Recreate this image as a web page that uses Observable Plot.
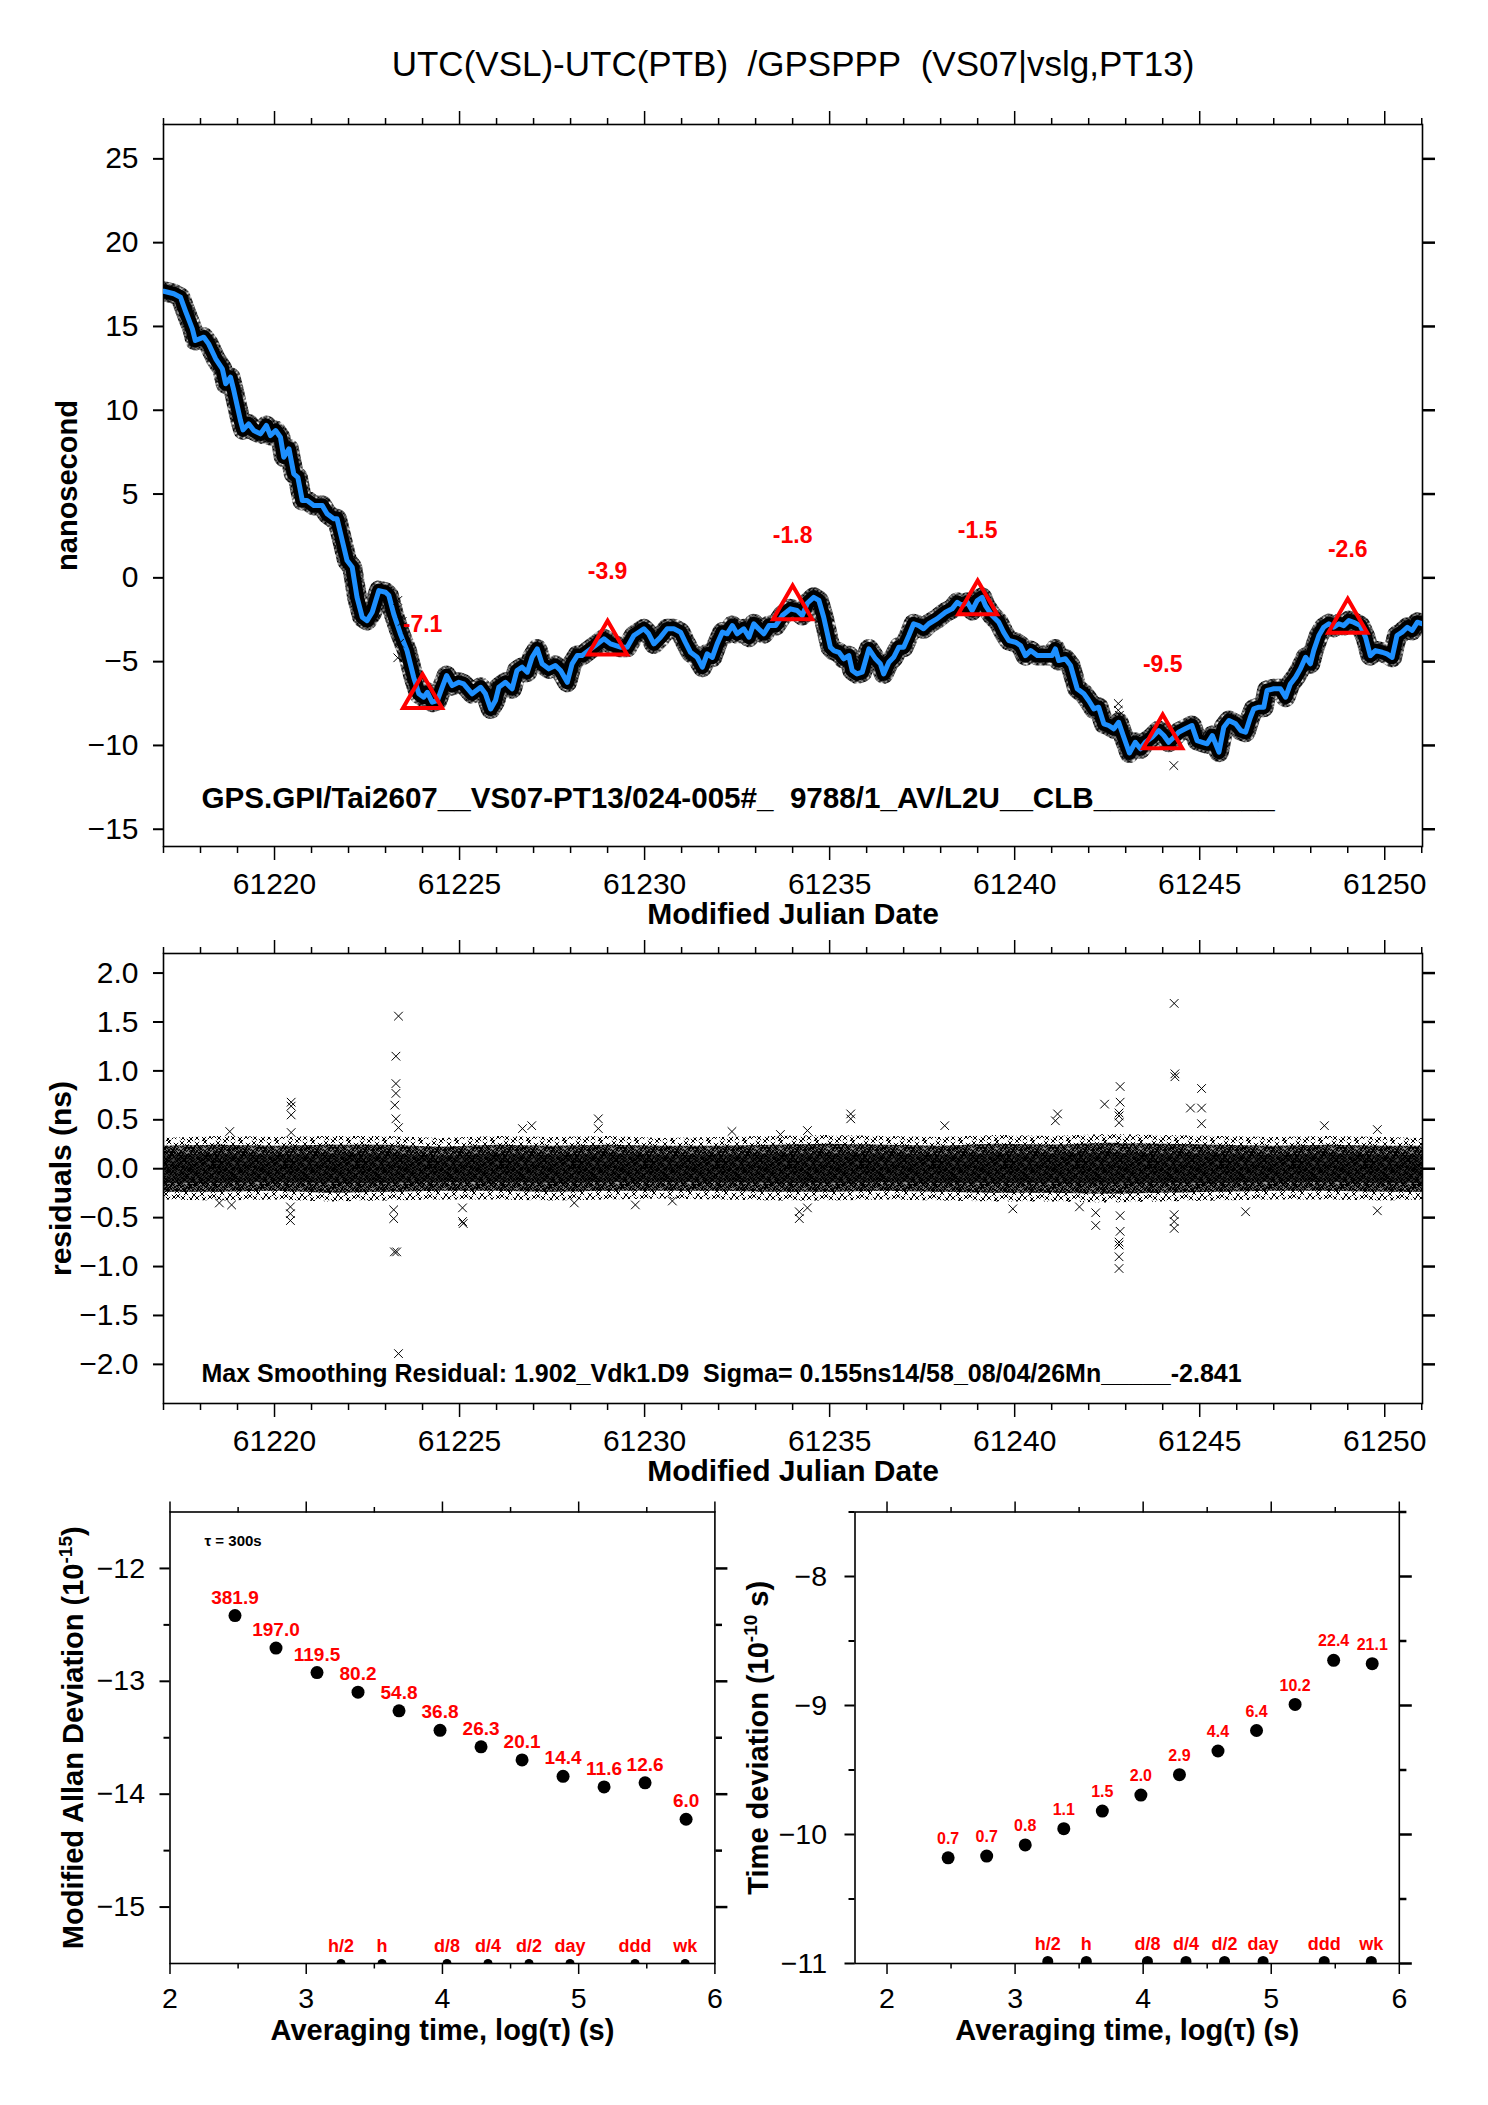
<!DOCTYPE html>
<html><head><meta charset="utf-8">
<script src="https://cdn.jsdelivr.net/npm/d3@7"></script>
<script src="https://cdn.jsdelivr.net/npm/@observablehq/plot@0.6"></script>
<style>
html,body{margin:0;padding:0;background:#fff;overflow:hidden}
#page{position:relative;width:1488px;height:2105px;background:#fff}
#page svg.p{position:absolute;left:0;top:0}
</style></head><body>
<div id="page"></div>
<script>
// ---------------- DATA ----------------
const title = "UTC(VSL)-UTC(PTB)\u00a0\u00a0/GPSPPP\u00a0\u00a0(VS07|vslg,PT13)";
const infoText = "GPS.GPI/Tai2607__VS07-PT13/024-005#_\u00a0\u00a09788/1_AV/L2U__CLB___________";
const resText = "Max Smoothing Residual: 1.902_Vdk1.D9\u00a0\u00a0Sigma= 0.155ns14/58_08/04/26Mn_____-2.841";

const mjdMajor = [61220,61225,61230,61235,61240,61245,61250];
const mjdMinor = [61217,61218,61219,61221,61222,61223,61224,61226,61227,61228,61229,61231,61232,61233,61234,61236,61237,61238,61239,61241,61242,61243,61244,61246,61247,61248,61249,61251];
const nsTicks = [-15,-10,-5,0,5,10,15,20,25];
const resTicks = [-2,-1.5,-1,-0.5,0,0.5,1,1.5,2];

// smoothed UTC(VSL)-UTC(PTB) curve (ns)
const topMjd = [61217.01,61217.28,61217.46,61217.59,61217.78,61217.86,61218.09,61218.22,61218.41,61218.59,61218.68,61218.81,61218.90,61219.08,61219.15,61219.30,61219.44,61219.62,61219.78,61219.89,61220.03,61220.16,61220.25,61220.39,61220.52,61220.63,61220.75,61220.88,61221.06,61221.29,61221.42,61221.60,61221.69,61221.83,61221.96,61222.10,61222.23,61222.37,61222.50,61222.64,61222.82,61223.00,61223.09,61223.22,61223.40,61223.58,61223.76,61223.90,61224.03,61224.13,61224.26,61224.40,61224.53,61224.65,61224.80,61224.98,61225.11,61225.34,61225.57,61225.70,61225.84,61225.97,61226.06,61226.24,61226.42,61226.55,61226.69,61226.83,61226.96,61227.10,61227.23,61227.41,61227.59,61227.73,61227.91,61228.04,61228.18,61228.31,61228.49,61228.67,61228.90,61229.08,61229.35,61229.53,61229.71,61229.98,61230.11,61230.25,61230.43,61230.61,61230.79,61230.97,61231.10,61231.24,61231.42,61231.56,61231.69,61231.83,61231.96,61232.10,61232.23,61232.37,61232.50,61232.68,61232.82,61232.95,61233.08,61233.22,61233.36,61233.54,61233.72,61233.94,61234.12,61234.26,61234.40,61234.57,61234.71,61234.84,61235.02,61235.11,61235.25,61235.38,61235.52,61235.61,61235.74,61235.88,61236.06,61236.24,61236.37,61236.46,61236.60,61236.73,61236.87,61237.00,61237.14,61237.27,61237.41,61237.54,61237.68,61237.90,61238.13,61238.31,61238.45,61238.58,61238.72,61238.85,61238.99,61239.12,61239.21,61239.39,61239.57,61239.70,61239.84,61240.02,61240.16,61240.29,61240.43,61240.61,61240.83,61241.01,61241.10,61241.19,61241.37,61241.51,61241.60,61241.69,61241.87,61242.00,61242.14,61242.27,61242.41,61242.54,61242.68,61242.81,61242.95,61243.10,61243.26,61243.40,61243.53,61243.71,61243.89,61244.03,61244.16,61244.30,61244.43,61244.61,61244.79,61244.93,61245.07,61245.20,61245.34,61245.52,61245.65,61245.79,61245.97,61246.11,61246.24,61246.37,61246.46,61246.60,61246.73,61246.82,61247.00,61247.18,61247.32,61247.45,61247.59,61247.72,61247.86,61247.99,61248.08,61248.22,61248.35,61248.49,61248.62,61248.76,61248.89,61249.03,61249.16,61249.34,61249.48,61249.61,61249.75,61249.93,61250.06,61250.20,61250.33,61250.47,61250.61,61250.74,61250.88,61251.02];
const topNs = [17.1,16.95,16.74,15.95,14.86,14.16,14.36,13.96,13.07,12.47,11.58,11.97,11.18,9.39,8.83,9.19,8.79,8.59,9.09,8.49,8.79,8.39,7.20,7.70,6.21,6.00,4.61,4.61,4.31,4.31,3.82,3.52,3.52,2.23,1.03,0.63,-1.16,-2.35,-2.55,-2.05,-0.76,-0.86,-1.06,-2.15,-3.34,-4.34,-5.93,-6.92,-7.12,-6.83,-7.42,-7.32,-6.53,-5.83,-6.43,-6.23,-6.33,-6.92,-6.53,-6.92,-7.82,-7.32,-6.53,-6.23,-6.62,-5.53,-5.33,-5.63,-4.74,-4.24,-5.13,-5.43,-5.23,-5.53,-6.23,-5.13,-4.64,-4.64,-4.34,-4.04,-3.64,-3.94,-4.14,-4.14,-3.44,-3.04,-3.34,-3.94,-3.54,-3.04,-3.04,-3.24,-3.84,-4.44,-4.74,-5.33,-4.54,-4.74,-3.94,-3.24,-3.34,-2.85,-3.34,-3.04,-3.54,-2.74,-3.04,-3.34,-2.85,-2.85,-2.25,-1.85,-1.95,-2.25,-1.50,-1.16,-1.35,-2.35,-4.14,-4.34,-4.44,-4.83,-4.64,-5.53,-5.73,-5.63,-4.24,-4.83,-5.13,-5.73,-5.04,-4.74,-4.14,-4.14,-3.44,-2.74,-2.85,-3.04,-2.74,-2.45,-2.05,-1.85,-1.46,-1.65,-1.46,-1.95,-1.35,-1.16,-1.65,-2.25,-2.65,-3.24,-3.74,-3.84,-4.04,-4.64,-4.34,-4.64,-4.64,-4.64,-4.24,-4.93,-4.83,-5.23,-5.93,-6.62,-6.92,-7.32,-7.82,-7.72,-8.71,-8.81,-9.01,-8.62,-9.51,-10.45,-9.81,-10.20,-9.81,-9.51,-9.11,-9.41,-9.81,-9.51,-9.21,-9.01,-8.81,-9.71,-9.81,-9.90,-9.41,-10.40,-8.91,-8.51,-8.71,-9.11,-9.21,-8.32,-7.82,-7.72,-7.72,-6.72,-6.62,-6.62,-7.12,-6.33,-5.93,-5.43,-4.74,-5.13,-4.34,-3.44,-2.95,-2.74,-2.95,-2.74,-2.85,-2.55,-2.65,-2.85,-3.54,-4.64,-4.34,-4.44,-4.54,-4.74,-3.44,-3.24,-2.95,-3.14,-2.65,-2.74];

// isolated raw points away from the curve (ns)
const topOutMjd = [61223.33,61223.45,61223.38,61223.33,61242.80,61242.80,61242.83,61244.30];
const topOutNs  = [-1.35,-2.60,-3.90,-4.77,-7.50,-7.90,-8.20,-11.20];

// 5-day markers
const triMjd = [61224,61229,61234,61239,61244,61249];
const triNs  = [-7.1,-3.9,-1.8,-1.5,-9.5,-2.6];

// residual cloud envelope (ns)
const envMjd  = [61217,61218.5,61220,61221.5,61223,61224.5,61226,61227.5,61229,61230.5,61232,61233.5,61235,61236.5,61238,61239.5,61241,61242.5,61244,61245.5,61247,61248.5,61250,61251.02];
const outerHi = [0.31,0.33,0.32,0.33,0.33,0.31,0.33,0.32,0.33,0.31,0.32,0.33,0.34,0.33,0.32,0.34,0.33,0.35,0.34,0.33,0.32,0.33,0.32,0.31];
const outerLo = [-0.32,-0.33,-0.32,-0.34,-0.33,-0.32,-0.32,-0.33,-0.32,-0.31,-0.32,-0.33,-0.33,-0.32,-0.33,-0.34,-0.34,-0.35,-0.34,-0.33,-0.32,-0.32,-0.33,-0.32];
const midHi   = [0.23,0.24,0.23,0.24,0.24,0.22,0.24,0.23,0.24,0.23,0.23,0.24,0.25,0.24,0.23,0.25,0.24,0.26,0.25,0.24,0.23,0.24,0.23,0.23];
const midLo   = [-0.24,-0.24,-0.23,-0.25,-0.24,-0.23,-0.23,-0.24,-0.23,-0.23,-0.23,-0.24,-0.24,-0.23,-0.24,-0.25,-0.25,-0.26,-0.25,-0.24,-0.23,-0.23,-0.24,-0.24];
const coreHi  = [0.14,0.15,0.14,0.15,0.15,0.13,0.15,0.14,0.15,0.14,0.14,0.15,0.15,0.15,0.14,0.15,0.15,0.16,0.15,0.15,0.14,0.15,0.14,0.14];
const coreLo  = [-0.15,-0.15,-0.14,-0.15,-0.15,-0.14,-0.14,-0.15,-0.14,-0.14,-0.14,-0.15,-0.15,-0.14,-0.15,-0.15,-0.15,-0.16,-0.15,-0.15,-0.14,-0.14,-0.15,-0.15];

// residual outliers
const resOutMjd = [61223.35,61223.28,61223.28,61223.28,61223.25,61223.28,61223.35,61223.22,61223.22,61223.24,61223.30,61223.35,61220.45,61220.45,61220.45,61220.45,61220.43,61220.43,61220.43,61225.08,61225.10,61225.08,61218.79,61218.51,61218.84,61228.75,61228.75,61226.95,61226.70,61232.36,61233.67,61234.18,61234.18,61229.75,61228.10,61230.75,61244.31,61244.33,61244.33,61245.05,61245.05,61244.75,61245.05,61242.85,61242.85,61242.43,61242.82,61242.82,61242.82,61242.85,61242.85,61242.82,61242.82,61242.82,61242.82,61244.31,61244.31,61244.31,61242.19,61242.19,61235.57,61235.57,61241.16,61241.10,61234.40,61239.95,61241.75,61246.24,61249.80,61249.80,61248.37,61238.11,61234.40];
const resOutNs  = [1.56,1.15,0.87,0.77,0.65,0.51,0.42,-0.42,-0.51,-0.85,-0.85,-1.89,0.68,0.64,0.55,0.37,-0.39,-0.46,-0.53,-0.54,-0.56,-0.40,0.38,-0.35,-0.37,0.51,0.41,0.44,0.41,0.38,0.35,-0.44,-0.51,-0.37,-0.35,-0.33,1.69,0.97,0.94,0.82,0.62,0.62,0.46,0.84,0.68,0.66,0.57,0.54,0.47,-0.48,-0.64,-0.75,-0.78,-0.90,-1.02,-0.47,-0.54,-0.61,-0.45,-0.58,0.56,0.51,0.56,0.49,-0.40,-0.41,-0.39,-0.44,-0.43,0.40,0.44,0.44,0.39];

// stability analysis
const tauSec = [300,600,1200,2400,4800,9600,19200,38400,76800,153600,307200,614400];
const modAdev = [381.9,197.0,119.5,80.2,54.8,36.8,26.3,20.1,14.4,11.6,12.6,6.0];      // 1e-15
const tdev    = [0.66,0.68,0.83,1.11,1.52,2.02,2.91,4.44,6.40,10.19,22.4,21.1];       // 1e-10 s
const markLabels = ["h/2","h","d/8","d/4","d/2","day","ddd","wk"];
const markSec    = [1800,3600,10800,21600,43200,86400,259200,604800];
const logMajor = [2,3,4,5,6];
const logMinor = [2.5,3.5,4.5,5.5];
const adevMajor = [-15,-14,-13,-12];
const adevMinor = [-14.5,-13.5,-12.5];
const tdevMajor = [-11,-10,-9,-8];
const tdevMinor = [-10.5,-9.5,-8.5,-7.5];

// ---------------- TABLES ----------------
const topData = topMjd.map((m,i)=>({mjd:m, ns:topNs[i]}));
const topOut = topOutMjd.map((m,i)=>({mjd:m, ns:topOutNs[i]}));
const tri = triMjd.map((m,i)=>({mjd:m, ns:triNs[i]}));
const env = envMjd.map((m,i)=>({mjd:m, oh:outerHi[i], ol:outerLo[i], mh:midHi[i], ml:midLo[i], ch:coreHi[i], cl:coreLo[i]}));
const resOut = resOutMjd.map((m,i)=>({mjd:m, r:resOutNs[i]}));
const adevData = tauSec.map((t,i)=>({lt:Math.log10(t), ly:Math.log10(modAdev[i]*1e-15), v:modAdev[i]}));
const tdevData = tauSec.map((t,i)=>({lt:Math.log10(t), ly:Math.log10(tdev[i]*1e-10), v:tdev[i]}));
const marks = markSec.map((s,i)=>({lt:Math.log10(s), label:markLabels[i]}));

// ---------------- STYLE ----------------
const W = 1488, H = 2105;
const FONT = "'Liberation Sans', Arial, Helvetica, sans-serif";
const NS = "http://www.w3.org/2000/svg";

// speckle patterns (x-marks) imitating the dense raw-data clouds
(function(){
  const svg = document.createElementNS(NS,"svg");
  svg.setAttribute("width","0"); svg.setAttribute("height","0");
  svg.style.position="absolute";
  const defs = document.createElementNS(NS,"defs");
  function pat(id, w, h, pts, sw){
    const p = document.createElementNS(NS,"pattern");
    p.setAttribute("id",id); p.setAttribute("width",w); p.setAttribute("height",h);
    p.setAttribute("patternUnits","userSpaceOnUse");
    const path = document.createElementNS(NS,"path");
    let d="";
    const k=2.2;
    for(const [x,y] of pts){
      for(const [ox,oy] of [[0,0],[w,0],[-w,0],[0,h],[0,-h]]){
        const cx=x+ox, cy=y+oy;
        d+=`M${cx-k},${cy-k}L${cx+k},${cy+k}M${cx-k},${cy+k}L${cx+k},${cy-k}`;
      }
    }
    path.setAttribute("d",d); path.setAttribute("stroke","#000"); path.setAttribute("stroke-width",sw); path.setAttribute("fill","none");
    p.appendChild(path); defs.appendChild(p);
  }
  pat("xs",36,30,[[2,3],[9,1],[17,4],[25,2],[32,5],[5,10],[13,9],[21,12],[29,10],[35,14],[1,17],[10,16],[18,19],[26,17],[33,21],[6,23],[14,25],[22,24],[30,27],[3,28],[11,29],[24,29],[7,6],[20,8],[28,14],[15,14],[4,20],[23,20],[34,26],[17,28]],1);
  pat("xd",24,20,[[1,1],[5,3],[9,1],[13,2],[17,0],[21,3],[3,6],[7,7],[11,5],[15,6],[19,7],[23,6],[1,10],[5,11],[9,9],[13,11],[17,10],[21,9],[3,14],[7,13],[11,15],[15,14],[19,15],[23,13],[1,18],[6,17],[10,19],[14,18],[18,17],[22,19]],1.1);
  svg.appendChild(defs);
  document.body.appendChild(svg);
})();

function supify(svg){
  svg.querySelectorAll("text").forEach(t=>{
    const s=t.textContent; const m=s.match(/^(.*)\^\{(.*?)\}(.*)$/);
    if(!m) return;
    while(t.firstChild) t.removeChild(t.firstChild);
    const a=document.createElementNS(NS,"tspan"); a.textContent=m[1];
    const b=document.createElementNS(NS,"tspan"); b.textContent=m[2]; b.setAttribute("dy","-11"); b.setAttribute("font-size","19");
    const c=document.createElementNS(NS,"tspan"); c.textContent=m[3]; c.setAttribute("dy","11");
    t.append(a,b,c);
  });
}

const blank = () => "";
function frameAxes(o){
  const out = [
    Plot.frame({stroke:"black", strokeWidth:1.6}),
    Plot.axisX({anchor:"bottom", ticks:o.xMaj, tickSize:o.xTick, tickPadding:o.xPad, tickFormat:o.xFmt, fontSize:o.fs, label:null, strokeWidth:1.5}),
    Plot.axisX({anchor:"bottom", ticks:o.xMin, tickSize:o.xTick/2, tickFormat:blank, label:null, strokeWidth:1.5}),
    Plot.axisX({anchor:"top", ticks:o.xMaj, tickSize:o.xTick, tickFormat:blank, label:null, strokeWidth:1.5}),
    Plot.axisX({anchor:"top", ticks:o.xMin, tickSize:o.xTick/2, tickFormat:blank, label:null, strokeWidth:1.5}),
    Plot.axisY({anchor:"left", ticks:o.yMaj, tickSize:o.yTick, tickPadding:o.yPad, tickFormat:o.yFmt, fontSize:o.fs, label:null, strokeWidth:2}),
    Plot.axisY({anchor:"right", ticks:o.yMaj, tickSize:o.yTick+2, tickFormat:blank, label:null, strokeWidth:2.5})
  ];
  if (o.yMin) {
    out.push(Plot.axisY({anchor:"left", ticks:o.yMin, tickSize:o.yTick*0.6, tickFormat:blank, label:null, strokeWidth:2}));
    out.push(Plot.axisY({anchor:"right", ticks:o.yMin, tickSize:(o.yTick+2)*0.55, tickFormat:blank, label:null, strokeWidth:2.5}));
  }
  return out;
}
// free-standing label anchored to the frame, centred on its point
function label(str, opts){ return Plot.text([str], {text:d=>d, textAnchor:"middle", lineAnchor:"middle", ...opts}); }

const baseStyle = {background:"transparent", fontFamily:FONT, overflow:"visible"};
const page = document.getElementById("page");
function add(svg){ svg.classList.add("p"); supify(svg); page.appendChild(svg); }

// ---------------- PANEL 1 ----------------
add(Plot.plot({
  width:W, height:H, style:baseStyle,
  marginLeft:163, marginRight:W-1422, marginTop:124, marginBottom:H-846,
  x:{domain:[61217,61251.02]}, y:{domain:[-16.03,27.05]},
  marks:[
    ...frameAxes({xMaj:mjdMajor, xMin:mjdMinor, yMaj:nsTicks, xFmt:d=>String(d), yFmt:d3.format("d"), fs:30, xPad:12, yPad:15, xTick:14, yTick:10}),
    Plot.line(topData, {x:"mjd", y:"ns", stroke:"url(#xd)", strokeWidth:20, strokeLinejoin:"round", clip:true}),
    Plot.line(topData, {x:"mjd", y:"ns", stroke:"black", strokeWidth:14, strokeLinejoin:"round", clip:true}),
    Plot.line(topData, {x:"mjd", y:"ns", stroke:"#1e90ff", strokeWidth:5, strokeLinejoin:"round", clip:true}),
    Plot.dot(topOut, {x:"mjd", y:"ns", symbol:"times", r:4, stroke:"black", strokeWidth:1}),
    Plot.dot(tri, {x:"mjd", y:"ns", symbol:"triangle", r:14.5, stroke:"red", strokeWidth:4, fill:"none"}),
    Plot.text(tri, {x:"mjd", y:"ns", text:d=>d.ns.toFixed(1), dy:-72, fill:"red", fontWeight:"bold", fontSize:23}),
    label(title, {frameAnchor:"top", dy:64.5-124, fontSize:35}),
    label(infoText, {frameAnchor:"bottom-left", textAnchor:"start", dx:201-163, dy:798-846, fontSize:29.6, fontWeight:"bold"}),
    label("Modified Julian Date", {frameAnchor:"bottom", dy:914-846, fontSize:30, fontWeight:"bold"}),
    label("nanosecond", {frameAnchor:"left", dx:67-163, rotate:-90, fontSize:29, fontWeight:"bold"})
  ]
}));

// ---------------- PANEL 2 ----------------
add(Plot.plot({
  width:W, height:H, style:baseStyle,
  marginLeft:163, marginRight:W-1422, marginTop:953, marginBottom:H-1403,
  x:{domain:[61217,61251.02]}, y:{domain:[-2.4,2.2]},
  marks:[
    ...frameAxes({xMaj:mjdMajor, xMin:mjdMinor, yMaj:resTicks, xFmt:d=>String(d), yFmt:d3.format(".1f"), fs:30, xPad:12, yPad:15, xTick:14, yTick:10}),
    Plot.areaY(env, {x:"mjd", y1:"ol", y2:"oh", fill:"url(#xs)"}),
    Plot.areaY(env, {x:"mjd", y1:"ml", y2:"mh", fill:"url(#xd)"}),
    Plot.areaY(env, {x:"mjd", y1:"ml", y2:"mh", fill:"#000", fillOpacity:0.35}),
    Plot.areaY(env, {x:"mjd", y1:"cl", y2:"ch", fill:"#000", fillOpacity:0.6}),
    Plot.dot(resOut, {x:"mjd", y:"r", symbol:"times", r:4, stroke:"black", strokeWidth:1}),
    label(resText, {frameAnchor:"bottom-left", textAnchor:"start", dx:201-163, dy:1373-1403, fontSize:25, fontWeight:"bold"}),
    label("Modified Julian Date", {frameAnchor:"bottom", dy:1471-1403, fontSize:30, fontWeight:"bold"}),
    label("residuals (ns)", {frameAnchor:"left", dx:60.5-163, rotate:-90, fontSize:30, fontWeight:"bold"})
  ]
}));

// ---------------- PANEL 3 ----------------
add(Plot.plot({
  width:W, height:H, style:baseStyle,
  marginLeft:169.5, marginRight:W-714.4, marginTop:1511.5, marginBottom:H-1963,
  x:{domain:[2,6]}, y:{domain:[-15.5,-11.5]},
  marks:[
    ...frameAxes({xMaj:logMajor, xMin:logMinor, yMaj:adevMajor, yMin:adevMinor, xFmt:d3.format("d"), yFmt:d3.format("d"), fs:28.5, xPad:13, yPad:15, xTick:11, yTick:10}),
    Plot.dot(adevData, {x:"lt", y:"ly", r:6.5, fill:"black"}),
    Plot.text(adevData, {x:"lt", y:"ly", text:d=>d.v.toFixed(1), dy:-18, fill:"red", fontWeight:"bold", fontSize:19}),
    Plot.dot(marks, {x:"lt", y:()=>-15.5, r:4.5, fill:"black", clip:true}),
    Plot.text(marks, {x:"lt", y:()=>-15.5, text:"label", dy:-17, fill:"red", fontWeight:"bold", fontSize:18}),
    label("\u03c4 = 300s", {frameAnchor:"top-left", textAnchor:"start", dx:204-169.5, dy:1541-1511.5, fontSize:15, fontWeight:"bold"}),
    label("Averaging time, log(\u03c4) (s)", {frameAnchor:"bottom", dy:2030-1963, fontSize:29, fontWeight:"bold"}),
    label("Modified Allan Deviation (10^{-15})", {frameAnchor:"left", dx:73-169.5, rotate:-90, fontSize:29, fontWeight:"bold"})
  ]
}));

// ---------------- PANEL 4 ----------------
add(Plot.plot({
  width:W, height:H, style:baseStyle,
  marginLeft:854.5, marginRight:W-1398.8, marginTop:1511.5, marginBottom:H-1963,
  x:{domain:[1.75,6]}, y:{domain:[-11,-7.5]},
  marks:[
    ...frameAxes({xMaj:logMajor, xMin:logMinor, yMaj:tdevMajor, yMin:tdevMinor, xFmt:d3.format("d"), yFmt:d3.format("d"), fs:28.5, xPad:13, yPad:18, xTick:11, yTick:10}),
    Plot.dot(tdevData, {x:"lt", y:"ly", r:6.5, fill:"black"}),
    Plot.text(tdevData, {x:"lt", y:"ly", text:d=>d.v.toFixed(1), dy:-19, fill:"red", fontWeight:"bold", fontSize:16}),
    Plot.dot(marks, {x:"lt", y:()=>-11, r:5.5, dy:-2, fill:"black", clip:true}),
    Plot.text(marks, {x:"lt", y:()=>-11, text:"label", dy:-19, fill:"red", fontWeight:"bold", fontSize:18}),
    label("Averaging time, log(\u03c4) (s)", {frameAnchor:"bottom", dy:2030-1963, fontSize:29, fontWeight:"bold"}),
    label("Time deviation (10^{-10} s)", {frameAnchor:"left", dx:758-854.5, rotate:-90, fontSize:29, fontWeight:"bold"})
  ]
}));
</script>
</body></html>
